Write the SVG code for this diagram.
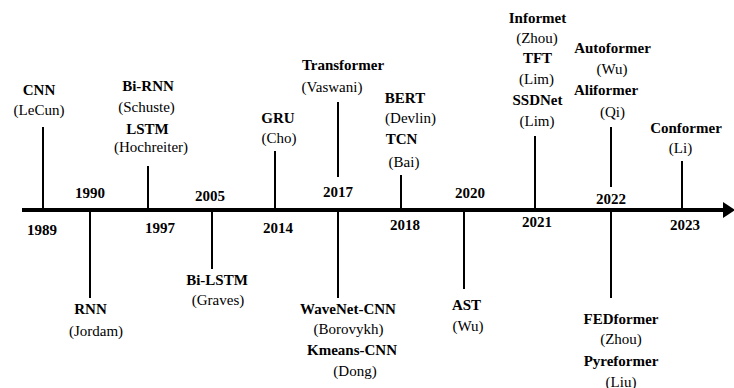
<svg xmlns="http://www.w3.org/2000/svg" width="734" height="388" viewBox="0 0 734 388">
<style>
text{font-family:"Liberation Serif","Times New Roman",serif;font-size:15px;fill:#000;text-anchor:middle}
.b{font-weight:bold}
.t{stroke:#000;stroke-width:2;fill:none}
</style>
<rect width="734" height="388" fill="#fff"/>
<g id="connectors">
<line x1="22" y1="210" x2="725" y2="210" stroke="#000" stroke-width="4"/>
<polygon points="723,202 735,210 723,218" fill="#000"/>
<line class="t" x1="43" y1="127" x2="43" y2="210"/>
<line class="t" x1="90" y1="210" x2="90" y2="298"/>
<line class="t" x1="148" y1="166" x2="148" y2="210"/>
<line class="t" x1="212" y1="210" x2="212" y2="269"/>
<line class="t" x1="275" y1="151" x2="275" y2="210"/>
<line class="t" x1="338" y1="102" x2="338" y2="177"/>
<line class="t" x1="338" y1="210" x2="338" y2="298"/>
<line class="t" x1="401" y1="175" x2="401" y2="210"/>
<line class="t" x1="464" y1="210" x2="464" y2="289"/>
<line class="t" x1="535" y1="136" x2="535" y2="210"/>
<line class="t" x1="611" y1="127" x2="611" y2="187"/>
<line class="t" x1="611" y1="210" x2="611" y2="298"/>
<line class="t" x1="682" y1="161" x2="682" y2="210"/>
</g>
<g id="years">
<text class="b" x="42" y="235">1989</text>
<text class="b" x="90" y="198">1990</text>
<text class="b" x="160" y="233">1997</text>
<text class="b" x="210" y="201">2005</text>
<text class="b" x="278" y="232.5">2014</text>
<text class="b" x="338" y="197">2017</text>
<text class="b" x="405" y="230">2018</text>
<text class="b" x="470" y="198">2020</text>
<text class="b" x="537" y="226.5">2021</text>
<text class="b" x="611" y="204">2022</text>
<text class="b" x="685" y="230">2023</text>
</g>
<g id="n-cnn">
<text class="b" x="39" y="95">CNN</text>
<text x="39" y="115">(LeCun)</text>
</g>
<g id="n-rnn">
<text class="b" x="90.5" y="314">RNN</text>
<text x="96" y="336">(Jordam)</text>
</g>
<g id="n-birnn-lstm">
<text class="b" x="148" y="91">Bi-RNN</text>
<text x="146.5" y="112">(Schuste)</text>
<text class="b" x="147.5" y="134">LSTM</text>
<text x="151" y="152">(Hochreiter)</text>
</g>
<g id="n-bilstm">
<text class="b" x="217" y="285">Bi-LSTM</text>
<text x="218" y="305">(Graves)</text>
</g>
<g id="n-gru">
<text class="b" x="278" y="123">GRU</text>
<text x="279" y="142.5">(Cho)</text>
</g>
<g id="n-transformer">
<text class="b" x="343" y="69.5">Transformer</text>
<text x="332" y="92">(Vaswani)</text>
</g>
<g id="n-wavenet">
<text class="b" x="348" y="314">WaveNet-CNN</text>
<text x="348.5" y="334">(Borovykh)</text>
<text class="b" x="352" y="355">Kmeans-CNN</text>
<text x="355" y="375.5">(Dong)</text>
</g>
<g id="n-bert-tcn">
<text class="b" x="405" y="103">BERT</text>
<text x="410.5" y="123">(Devlin)</text>
<text class="b" x="401.5" y="144">TCN</text>
<text x="404" y="166.5">(Bai)</text>
</g>
<g id="n-ast">
<text class="b" x="466.5" y="310">AST</text>
<text x="468" y="330.5">(Wu)</text>
</g>
<g id="n-informet">
<text class="b" x="537.5" y="22.5">Informet</text>
<text x="537" y="43">(Zhou)</text>
<text class="b" x="537.5" y="63">TFT</text>
<text x="536.5" y="84">(Lim)</text>
<text class="b" x="537.5" y="105">SSDNet</text>
<text x="537" y="125.5">(Lim)</text>
</g>
<g id="n-autoformer">
<text class="b" x="612.5" y="53">Autoformer</text>
<text x="612" y="74">(Wu)</text>
<text class="b" x="606" y="95">Aliformer</text>
<text x="612.5" y="116.5">(Qi)</text>
</g>
<g id="n-fedformer">
<text class="b" x="621" y="324">FEDformer</text>
<text x="621" y="344">(Zhou)</text>
<text class="b" x="621" y="365.5">Pyreformer</text>
<text x="621" y="386.5">(Liu)</text>
</g>
<g id="n-conformer">
<text class="b" x="686" y="133">Conformer</text>
<text x="680.5" y="153">(Li)</text>
</g>
</svg>
